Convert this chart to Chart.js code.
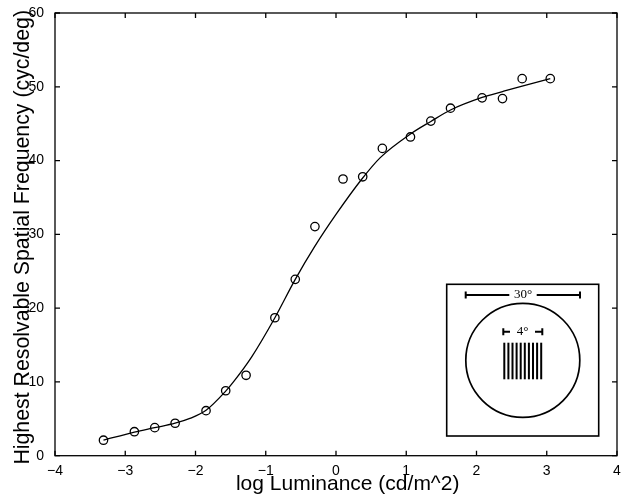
<!DOCTYPE html>
<html>
<head>
<meta charset="utf-8">
<script src="https://cdn.jsdelivr.net/npm/chart.js@4.4.0/dist/chart.umd.min.js"></script>
<style>
  html, body { margin: 0; padding: 0; background: #fff; }
</style>
</head>
<body>
<canvas id="chart" width="624" height="498"></canvas>
<script>
// measured points (open circles)
const luminance = [-3.31, -2.87, -2.58, -2.29, -1.85, -1.57, -1.28, -0.87, -0.58, -0.30,
                   0.10, 0.38, 0.66, 1.06, 1.35, 1.63, 2.08, 2.37, 2.65, 3.05];
const frequency = [2.1, 3.25, 3.8, 4.4, 6.1, 8.8, 10.9, 18.7, 23.9, 31.05,
                   37.5, 37.8, 41.65, 43.2, 45.35, 47.1, 48.5, 48.4, 51.1, 51.1];

// fitted curve
const fitLum = [-3.31, -2.87, -2.58, -2.29, -2.08, -1.85, -1.57, -1.46, -1.2, -0.87, -0.58,
                -0.30, 0.0, 0.36, 0.63, 1.06, 1.35, 1.63, 2.08, 2.37, 2.65, 3.05];
const fitFreq = [2.1, 3.2, 3.8, 4.4, 5.05, 6.15, 8.75, 10.0, 13.4, 18.7, 23.9,
                 28.4, 32.7, 37.4, 40.4, 43.6, 45.3, 46.85, 48.55, 49.35, 50.1, 51.1];

const xTicks = [-4, -3, -2, -1, 0, 1, 2, 3, 4];
const yTicks = [0, 10, 20, 30, 40, 50, 60];

const sans = "'Liberation Sans', Arial, Helvetica, sans-serif";
const minus = v => String(v).replace('-', '\u2212');

// box round the plot with inward ticks on all four sides
const framePlugin = {
    id: 'frame',
    afterDraw(chart) {
        const ctx = chart.ctx;
        const a = chart.chartArea;
        const xs = chart.scales.x, ys = chart.scales.y;
        ctx.save();
        ctx.strokeStyle = '#000';
        ctx.lineWidth = 1.3;
        ctx.strokeRect(a.left, a.top, a.right - a.left, a.bottom - a.top);
        ctx.beginPath();
        xTicks.forEach(v => {
            const px = xs.getPixelForValue(v);
            ctx.moveTo(px, a.bottom); ctx.lineTo(px, a.bottom - 5);
            ctx.moveTo(px, a.top); ctx.lineTo(px, a.top + 5);
        });
        yTicks.forEach(v => {
            const py = ys.getPixelForValue(v);
            ctx.moveTo(a.left, py); ctx.lineTo(a.left + 5, py);
            ctx.moveTo(a.right, py); ctx.lineTo(a.right - 5, py);
        });
        ctx.stroke();
        ctx.restore();
    }
};

// stimulus sketch in the lower right corner
const insetPlugin = {
    id: 'inset',
    afterDraw(chart) {
        const ctx = chart.ctx;
        const a = chart.chartArea;
        const ox = a.left, oy = a.top;
        ctx.save();
        ctx.strokeStyle = '#000';
        ctx.fillStyle = '#000';

        ctx.lineWidth = 1.6;
        ctx.strokeRect(ox + 391.7, oy + 271.3, 152, 151.7);

        ctx.lineWidth = 1.7;
        ctx.beginPath();
        ctx.arc(ox + 467.8, oy + 347.3, 57, 0, Math.PI * 2);
        ctx.stroke();

        // 30 deg bracket
        ctx.lineWidth = 2;
        let y = oy + 282;
        ctx.beginPath();
        ctx.moveTo(ox + 410.7, y); ctx.lineTo(ox + 454.3, y);
        ctx.moveTo(ox + 481.7, y); ctx.lineTo(ox + 525, y);
        ctx.moveTo(ox + 410.7, y - 3.5); ctx.lineTo(ox + 410.7, y + 3.5);
        ctx.moveTo(ox + 525, y - 3.5); ctx.lineTo(ox + 525, y + 3.5);
        // 4 deg bracket
        y = oy + 318.7;
        ctx.moveTo(ox + 448.3, y); ctx.lineTo(ox + 455, y);
        ctx.moveTo(ox + 480, y); ctx.lineTo(ox + 487.3, y);
        ctx.moveTo(ox + 448.3, y - 3.5); ctx.lineTo(ox + 448.3, y + 3.5);
        ctx.moveTo(ox + 487.3, y - 3.5); ctx.lineTo(ox + 487.3, y + 3.5);
        ctx.stroke();

        ctx.font = "13px 'Liberation Serif', 'Times New Roman', serif";
        ctx.textAlign = 'center';
        ctx.textBaseline = 'middle';
        ctx.fillText('30\u00b0', ox + 468, oy + 282);
        ctx.fillText('4\u00b0', ox + 467.5, oy + 318.7);

        // grating
        for (let i = 0; i < 10; i++) {
            ctx.fillRect(ox + 448.3 + i * 4.1, oy + 329.7, 2, 36.6);
        }
        ctx.restore();
    }
};

new Chart(document.getElementById('chart'), {
    type: 'scatter',
    data: {
        datasets: [
            {
                label: 'fit',
                data: fitLum.map((x, i) => ({ x: x, y: fitFreq[i] })),
                showLine: true,
                borderColor: '#000',
                borderWidth: 1.3,
                pointRadius: 0,
                tension: 0.4,
                cubicInterpolationMode: 'monotone'
            },
            {
                label: 'measured',
                data: luminance.map((x, i) => ({ x: x, y: frequency[i] })),
                showLine: false,
                pointStyle: 'circle',
                pointRadius: 4.2,
                pointBorderWidth: 1.3,
                borderColor: '#000',
                backgroundColor: 'rgba(0,0,0,0)'
            }
        ]
    },
    options: {
        responsive: false,
        animation: false,
        layout: { padding: { top: 13, right: 7, left: 0, bottom: 0 } },
        plugins: {
            legend: { display: false },
            tooltip: { enabled: false }
        },
        scales: {
            x: {
                type: 'linear',
                min: -4, max: 4,
                afterBuildTicks: s => { s.ticks = xTicks.map(v => ({ value: v })); },
                afterFit: s => { s.height = 42.3; },
                grid: { display: false },
                border: { display: false },
                ticks: {
                    autoSkip: false, maxRotation: 0, padding: -1,
                    color: '#000', font: { family: sans, size: 14 },
                    callback: v => minus(v)
                },
                title: {
                    display: true, text: '    log Luminance (cd/m^2)', color: '#000',
                    font: { family: sans, size: 21 }, padding: { top: 0, bottom: 1 }
                }
            },
            y: {
                min: 0, max: 60,
                afterBuildTicks: s => { s.ticks = yTicks.map(v => ({ value: v })); },
                afterFit: s => { s.width = 55; },
                grid: { display: false },
                border: { display: false },
                ticks: {
                    autoSkip: false, padding: 3,
                    color: '#000', font: { family: sans, size: 14 }
                },
                title: {
                    display: true, text: 'Highest Resolvable Spatial Frequency (cyc/deg) ', color: '#000',
                    font: { family: sans, size: 21.3 }, padding: { top: 10, bottom: 0 }
                }
            }
        }
    },
    plugins: [framePlugin, insetPlugin]
});
</script>
</body>
</html>
